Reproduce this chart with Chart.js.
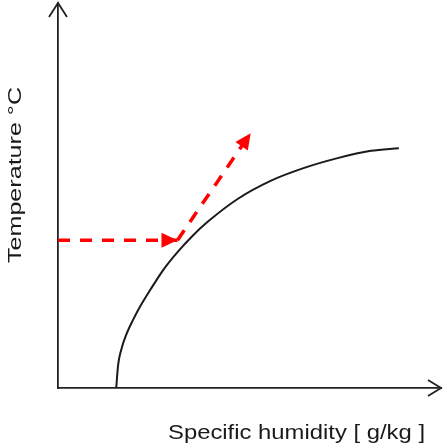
<!DOCTYPE html>
<html>
<head>
<meta charset="utf-8">
<script src="https://cdn.jsdelivr.net/npm/chart.js@4.4.0/dist/chart.umd.min.js"></script>
<style>
  html, body { margin: 0; padding: 0; background: #fff; }
  #wrap { width: 444px; height: 448px; }
</style>
</head>
<body>
<div id="wrap"><canvas id="myChart"></canvas></div>
<script>
// saturation curve (arbitrary units 0-100)
const humidity = [15.2, 15.7, 16.5, 17.8, 19.6, 21.7, 24.1, 27.5, 31.2, 35.1, 39.0, 46.9, 55.5, 64.1, 73.0, 81.7, 89.0];
const temperature = [0, 6.0, 9.9, 13.8, 17.7, 21.6, 25.5, 30.7, 35.3, 39.5, 43.1, 49.1, 53.8, 57.1, 59.7, 61.6, 62.3];
// red dashed process path: horizontal to the curve, then up and right
const pathX = [0, 31.2, 50.3];
const pathY = [38.4, 38.4, 66.2];
const xTitle = 'Specific humidity [ g/kg ]';
const yTitle = 'Temperature °C';

const ctx = document.getElementById('myChart');

let pts = (xs, ys) => xs.map((x, i) => ({ x: x, y: ys[i] }));

let dashed = data => {
  return {
    data: data,
    borderColor: '#ff0000',
    borderWidth: 3.5,
    borderDash: [12, 10],
    pointRadius: 0,
    arrow: true,
  };
};

const path = pts(pathX, pathY);

// filled heads on the red arrows, open heads on the axes, and the two labels
const decor = {
  id: 'decor',
  afterDatasetsDraw(chart) {
    const c = chart.ctx;
    chart.data.datasets.forEach((ds, i) => {
      if (!ds.arrow) return;
      const el = chart.getDatasetMeta(i).data;
      const a = el[el.length - 2], b = el[el.length - 1];
      const ang = Math.atan2(b.y - a.y, b.x - a.x);
      c.save();
      c.translate(b.x, b.y);
      c.rotate(ang);
      c.fillStyle = '#ff0000';
      c.beginPath();
      c.moveTo(0, 0);
      c.lineTo(-16, -7.5);
      c.lineTo(-16, 7.5);
      c.closePath();
      c.fill();
      c.restore();
    });
  },
  afterDraw(chart) {
    const c = chart.ctx;
    const { left, right, top, bottom } = chart.chartArea;
    c.save();
    c.strokeStyle = '#222';
    c.lineWidth = 1.8;
    c.beginPath();
    c.moveTo(left - 9, top + 14);
    c.lineTo(left, top);
    c.lineTo(left + 9, top + 14);
    c.moveTo(right - 13, bottom - 8);
    c.lineTo(right, bottom);
    c.lineTo(right - 13, bottom + 8);
    c.stroke();

    c.fillStyle = '#1a1a1a';
    c.textAlign = 'center';
    c.textBaseline = 'alphabetic';
    let fitText = (text, size, width) => {
      c.font = size + 'px "Liberation Sans"';
      const w = c.measureText(text).width;
      c.scale(width / w, 1);
      c.fillText(text, 0, 0);
    };
    c.save();
    c.translate(296.5, 439);
    fitText(xTitle, 21, 257);
    c.restore();
    c.save();
    c.translate(21, 175);
    c.rotate(-Math.PI / 2);
    fitText(yTitle, 19, 176);
    c.restore();
    c.restore();
  },
};

new Chart(ctx, {
  type: 'line',
  data: {
    datasets: [
      {
        data: pts(humidity, temperature),
        borderColor: '#1a1a1a',
        borderWidth: 2,
        pointRadius: 0,
        cubicInterpolationMode: 'monotone',
      },
      dashed(path.slice(0, 2)),
      dashed(path.slice(1)),
    ],
  },
  options: {
    responsive: true,
    maintainAspectRatio: false,
    animation: false,
    layout: { padding: { left: 58, top: 3, right: 3, bottom: 60 } },
    plugins: { legend: { display: false }, tooltip: { enabled: false } },
    scales: {
      x: {
        type: 'linear',
        min: 0,
        max: 100,
        grid: { display: false, drawTicks: false },
        ticks: { display: false },
        border: { display: true, color: '#222', width: 1.8 },
      },
      y: {
        type: 'linear',
        min: 0,
        max: 100,
        grid: { display: false, drawTicks: false },
        ticks: { display: false },
        border: { display: true, color: '#222', width: 1.8 },
      },
    },
  },
  plugins: [decor],
});
</script>
</body>
</html>
